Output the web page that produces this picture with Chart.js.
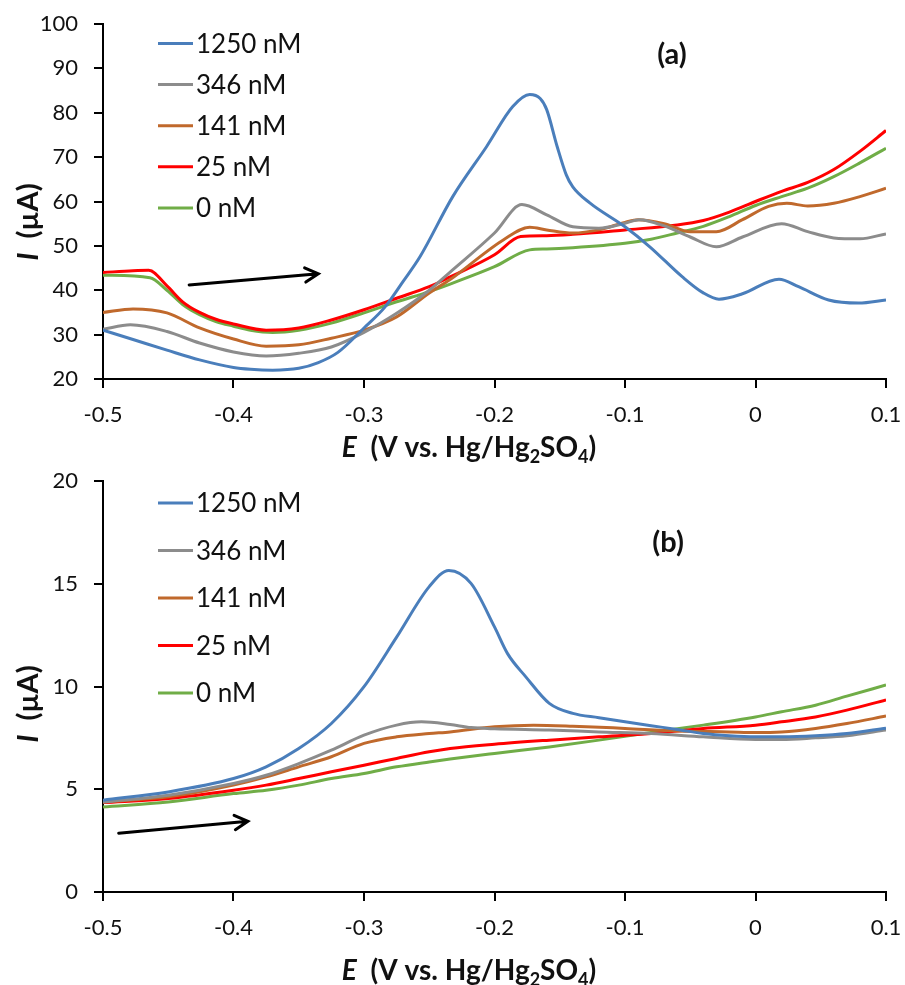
<!DOCTYPE html>
<html>
<head>
<meta charset="utf-8">
<title>Voltammograms</title>
<script src="https://cdn.jsdelivr.net/npm/chart.js@4.4.1/dist/chart.umd.min.js"></script>
<style>
  body { margin: 0; background: #fff; }
  canvas { display: block; }
</style>
</head>
<body>
<canvas id="chartA" width="905" height="470"></canvas>
<canvas id="chartB" width="905" height="515"></canvas>
<script>
// series names and colours (same for both panels)
const seriesLabels = ['1250 nM', '346 nM', '141 nM', '25 nM', '0 nM'];
const seriesColors = ['#4a7ebb', '#8c8c8c', '#c0692c', '#ff0000', '#70ad47'];

// panel (a) - potential E (V) and current I (uA)
const aBlueE = [-0.5, -0.477, -0.451, -0.426, -0.4, -0.387, -0.37, -0.35, -0.335, -0.32, -0.3, -0.284, -0.27, -0.257, -0.232, -0.206, -0.186, -0.173, -0.165, -0.16, -0.152, -0.145, -0.14, -0.127, -0.1, -0.081, -0.056, -0.04, -0.028, -0.01, 0.018, 0.033, 0.056, 0.079, 0.1];
const aBlueI = [31, 28.9, 26.5, 24.3, 22.6, 22.2, 22, 22.4, 23.7, 26, 31.5, 36.2, 42, 47.6, 61.1, 72.4, 81.4, 84.1, 83.2, 80.7, 72.4, 66, 63.3, 59.7, 54.3, 49.8, 43, 39.4, 38, 39.2, 42.5, 40.8, 37.8, 37.1, 37.8];
const aGrayE = [-0.5, -0.479, -0.451, -0.426, -0.4, -0.375, -0.35, -0.325, -0.3, -0.275, -0.25, -0.234, -0.2, -0.179, -0.16, -0.14, -0.12, -0.1, -0.089, -0.07, -0.05, -0.03, -0.01, 0.02, 0.04, 0.06, 0.08, 0.1];
const aGrayI = [31.2, 32.2, 30.7, 28.1, 26.1, 25.2, 25.8, 27.2, 30.5, 34.8, 40, 44.1, 52.9, 59.3, 57, 54.3, 54, 55.1, 55.9, 54.5, 52, 49.8, 52, 55, 53.2, 51.8, 51.6, 52.7];
const aOrangeE = [-0.5, -0.477, -0.451, -0.426, -0.4, -0.375, -0.35, -0.325, -0.3, -0.275, -0.25, -0.234, -0.193, -0.173, -0.16, -0.14, -0.12, -0.1, -0.09, -0.07, -0.05, -0.03, -0.01, 0.01, 0.024, 0.04, 0.06, 0.08, 0.1];
const aOrangeI = [35, 35.8, 34.9, 31.5, 29, 27.4, 27.7, 29.2, 31, 34, 39.4, 42.4, 51.4, 54.2, 53.6, 52.9, 53.6, 55.3, 55.9, 55, 53.2, 53.2, 55.9, 58.9, 59.6, 59, 59.6, 61.1, 63];
const aRedE = [-0.5, -0.477, -0.465, -0.451, -0.439, -0.426, -0.413, -0.4, -0.375, -0.35, -0.325, -0.3, -0.275, -0.25, -0.234, -0.2, -0.18, -0.16, -0.14, -0.1, -0.06, -0.04, -0.02, 0, 0.02, 0.04, 0.06, 0.08, 0.1];
const aRedI = [44, 44.4, 44.5, 41, 37.4, 35, 33.4, 32.4, 31, 31.5, 33.3, 35.6, 38.2, 40.8, 43, 48, 52.1, 52.3, 52.6, 53.6, 54.7, 55.7, 57.6, 60, 62.3, 64.3, 67.2, 71.3, 76];
const aGreenE = [-0.5, -0.464, -0.451, -0.439, -0.426, -0.413, -0.4, -0.387, -0.37, -0.35, -0.325, -0.3, -0.275, -0.25, -0.234, -0.2, -0.173, -0.16, -0.14, -0.1, -0.08, -0.06, -0.04, -0.02, 0, 0.02, 0.04, 0.06, 0.08, 0.1];
const aGreenI = [43.4, 42.8, 40, 36.8, 34.5, 32.9, 31.9, 31, 30.5, 31, 32.6, 34.9, 37.4, 39.7, 41.4, 45.3, 49.1, 49.3, 49.6, 50.6, 51.5, 52.9, 54.4, 56.6, 59.1, 61.1, 63, 65.6, 68.7, 72];

// panel (b)
const bBlueE = [-0.5, -0.45, -0.4, -0.375, -0.35, -0.325, -0.3, -0.275, -0.25, -0.235, -0.218, -0.2, -0.19, -0.176, -0.158, -0.14, -0.12, -0.1, -0.08, -0.06, -0.04, -0.02, 0, 0.02, 0.046, 0.07, 0.1];
const bBlueI = [4.47, 4.87, 5.52, 6.09, 6.98, 8.2, 9.99, 12.4, 14.86, 15.65, 15.02, 12.9, 11.6, 10.47, 9.18, 8.69, 8.48, 8.28, 8.09, 7.91, 7.71, 7.6, 7.55, 7.55, 7.6, 7.71, 7.97];
const bGrayE = [-0.5, -0.45, -0.4, -0.375, -0.35, -0.325, -0.3, -0.275, -0.256, -0.234, -0.218, -0.2, -0.158, -0.12, -0.08, -0.04, 0, 0.02, 0.046, 0.07, 0.1];
const bGrayI = [4.38, 4.71, 5.28, 5.68, 6.25, 6.9, 7.63, 8.12, 8.28, 8.15, 8.0, 7.94, 7.88, 7.79, 7.71, 7.55, 7.42, 7.42, 7.5, 7.6, 7.88];
const bOrangeE = [-0.5, -0.45, -0.4, -0.375, -0.35, -0.325, -0.3, -0.275, -0.25, -0.234, -0.2, -0.17, -0.14, -0.1, -0.06, -0.02, 0, 0.02, 0.046, 0.07, 0.1];
const bOrangeI = [4.38, 4.63, 5.2, 5.6, 6.09, 6.58, 7.23, 7.55, 7.71, 7.79, 8.04, 8.12, 8.07, 7.96, 7.84, 7.79, 7.76, 7.79, 7.96, 8.2, 8.56];
const bRedE = [-0.5, -0.45, -0.4, -0.375, -0.35, -0.325, -0.3, -0.275, -0.25, -0.234, -0.2, -0.158, -0.12, -0.08, -0.04, 0, 0.02, 0.046, 0.07, 0.1];
const bRedI = [4.35, 4.55, 4.95, 5.2, 5.52, 5.85, 6.17, 6.5, 6.82, 6.98, 7.19, 7.39, 7.55, 7.71, 7.96, 8.12, 8.28, 8.52, 8.85, 9.35];
const bGreenE = [-0.5, -0.45, -0.4, -0.375, -0.35, -0.325, -0.3, -0.275, -0.25, -0.234, -0.2, -0.158, -0.12, -0.08, -0.04, 0, 0.02, 0.046, 0.07, 0.1];
const bGreenI = [4.14, 4.38, 4.79, 4.95, 5.2, 5.52, 5.77, 6.09, 6.33, 6.47, 6.74, 7.06, 7.39, 7.76, 8.12, 8.52, 8.77, 9.09, 9.53, 10.07];

// axis ticks
const xTicks = [-0.5, -0.4, -0.3, -0.2, -0.1, 0, 0.1];
const aYTicks = [20, 30, 40, 50, 60, 70, 80, 90, 100];
const bYTicks = [0, 5, 10, 15, 20];

// scan direction arrows, in data units [E0, I0, E1, I1]
const aArrow = [-0.434, 41.2, -0.335, 43.7];
const bArrow = [-0.488, 2.86, -0.389, 3.44];

function toPoints(es, is) {
    return es.map((e, k) => ({ x: e, y: is[k] }));
}

// draws a row of text pieces (italic / subscript) centred on cx
function drawRuns(ctx, runs, cx, cy) {
    let total = 0;
    runs.forEach(r => { ctx.font = r.f; r.w = ctx.measureText(r.t).width; total += r.w; });
    let x = cx - total / 2;
    runs.forEach(r => {
        ctx.font = r.f;
        ctx.fillText(r.t, x, cy + (r.dy || 0));
        x += r.w;
    });
}

const titleFont = 'bold 28px Lato';
const subFont = 'bold 18px Lato';
const xTitleRuns = [
    { t: 'E', f: 'italic ' + titleFont },
    { t: '  (V vs. Hg/Hg', f: titleFont },
    { t: '2', f: subFont, dy: 6 },
    { t: 'SO', f: titleFont },
    { t: '4', f: subFont, dy: 6 },
    { t: ')', f: titleFont }
];
const yTitleRuns = [
    { t: 'I', f: 'italic ' + titleFont },
    { t: '  (\u00b5A)', f: 'bold 29px Lato' }
];

const decorPlugin = {
    id: 'decor',
    afterDraw(chart, args, o) {
        const ctx = chart.ctx;
        const xs = chart.scales.x;
        const ys = chart.scales.y;
        ctx.save();
        ctx.textBaseline = 'alphabetic';
        ctx.textAlign = 'left';
        ctx.fillStyle = '#111';

        // legend
        chart.data.datasets.forEach((ds, i) => {
            const y = o.legendTop + i * o.legendGap;
            ctx.strokeStyle = ds.borderColor;
            ctx.lineWidth = 3;
            ctx.beginPath();
            ctx.moveTo(158, y);
            ctx.lineTo(193, y);
            ctx.stroke();
            ctx.font = '26px Lato';
            ctx.fillText(ds.label, 196, y + 9);
        });

        // panel label
        ctx.font = 'bold 29px Lato';
        ctx.textAlign = 'center';
        ctx.fillText(o.panel, xs.getPixelForValue(o.panelAt[0]), ys.getPixelForValue(o.panelAt[1]) + 10);
        ctx.textAlign = 'left';

        // arrow
        const x0 = xs.getPixelForValue(o.arrow[0]), y0 = ys.getPixelForValue(o.arrow[1]);
        const x1 = xs.getPixelForValue(o.arrow[2]), y1 = ys.getPixelForValue(o.arrow[3]);
        const ang = Math.atan2(y1 - y0, x1 - x0);
        ctx.strokeStyle = '#000';
        ctx.lineWidth = 3;
        ctx.lineCap = 'round';
        ctx.beginPath();
        ctx.moveTo(x0, y0);
        ctx.lineTo(x1, y1);
        ctx.moveTo(x1 - 15 * Math.cos(ang - 0.5), y1 - 15 * Math.sin(ang - 0.5));
        ctx.lineTo(x1, y1);
        ctx.lineTo(x1 - 15 * Math.cos(ang + 0.5), y1 - 15 * Math.sin(ang + 0.5));
        ctx.stroke();

        // axis titles
        drawRuns(ctx, xTitleRuns, 469, o.xTitleY);
        ctx.translate(38, o.yTitleY);
        ctx.rotate(-Math.PI / 2);
        drawRuns(ctx, yTitleRuns, 0, 0);
        ctx.restore();
    }
};

function makeChart(id, sets, yMin, yMax, cfg) {
    const datasets = sets.map((s, i) => ({
        label: seriesLabels[i],
        data: toPoints(s[0], s[1]),
        borderColor: seriesColors[i],
        backgroundColor: seriesColors[i],
        borderWidth: 3,
        showLine: true,
        pointRadius: 0,
        fill: false,
        cubicInterpolationMode: 'monotone',
        order: i
    }));

    return new Chart(document.getElementById(id), {
        type: 'scatter',
        data: { datasets: datasets },
        options: {
            responsive: false,
            animation: false,
            layout: { padding: { left: 0, right: 19, top: cfg.top, bottom: 0 } },
            plugins: {
                legend: { display: false },
                tooltip: { enabled: false },
                decor: cfg.decor
            },
            scales: {
                x: {
                    type: 'linear',
                    min: -0.5,
                    max: 0.1,
                    afterBuildTicks: s => { s.ticks = xTicks.map(v => ({ value: v })); },
                    ticks: {
                        callback: v => String(Math.round(v * 10) / 10),
                        font: { family: 'Lato', size: 22 },
                        color: '#111',
                        padding: 14,
                        maxRotation: 0
                    },
                    grid: { drawOnChartArea: false, tickLength: 9, color: '#000', lineWidth: 2 },
                    border: { color: '#000', width: 2 },
                    afterFit: s => {
                        s.height = cfg.xHeight;
                        s.paddingLeft = 0;
                        s.paddingRight = 0;
                    }
                },
                y: {
                    type: 'linear',
                    min: yMin,
                    max: yMax,
                    afterBuildTicks: s => { s.ticks = cfg.yTicks.map(v => ({ value: v })); },
                    ticks: {
                        font: { family: 'Lato', size: 22 },
                        color: '#111',
                        padding: 16
                    },
                    grid: { drawOnChartArea: false, tickLength: 9, color: '#000', lineWidth: 2 },
                    border: { color: '#000', width: 2 },
                    afterFit: s => {
                        s.width = 103;
                        s.paddingTop = 0;
                        s.paddingBottom = 0;
                    }
                }
            }
        },
        plugins: [decorPlugin]
    });
}

makeChart('chartA', [
    [aBlueE, aBlueI], [aGrayE, aGrayI], [aOrangeE, aOrangeI], [aRedE, aRedI], [aGreenE, aGreenI]
], 20, 100, {
    top: 24,
    xHeight: 91,
    yTicks: aYTicks,
    decor: { legendTop: 43.5, legendGap: 41.1, panel: '(a)', panelAt: [-0.064, 93.3], arrow: aArrow, xTitleY: 457, yTitleY: 222 }
});

makeChart('chartB', [
    [bBlueE, bBlueI], [bGrayE, bGrayI], [bOrangeE, bOrangeI], [bRedE, bRedI], [bGreenE, bGreenI]
], 0, 20, {
    top: 11,
    xHeight: 93,
    yTicks: bYTicks,
    decor: { legendTop: 33, legendGap: 47.5, panel: '(b)', panelAt: [-0.067, 17.03], arrow: bArrow, xTitleY: 510, yTitleY: 234 }
});
</script>
</body>
</html>
